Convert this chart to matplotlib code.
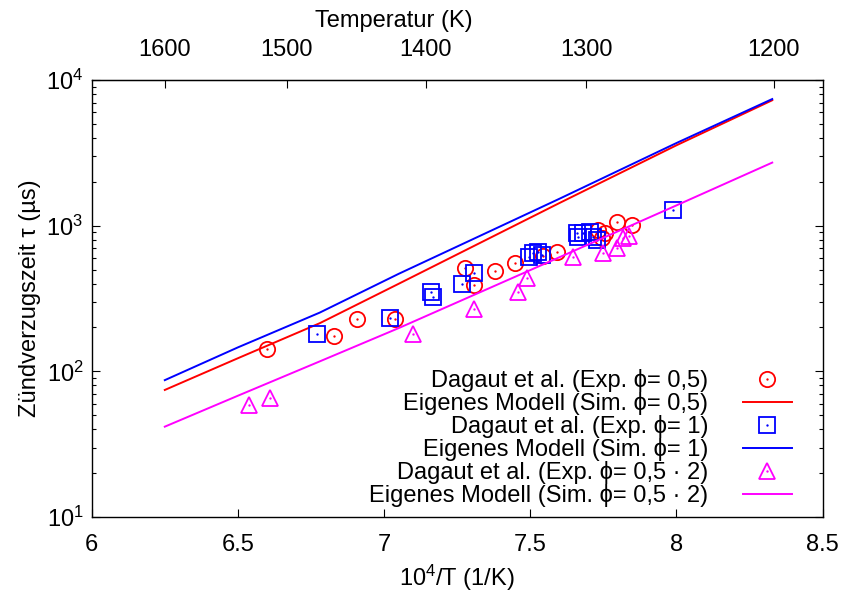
import matplotlib
matplotlib.use("Agg")
import matplotlib.pyplot as plt
from matplotlib.ticker import LogLocator, NullFormatter

plt.rcParams['font.family'] = ['Liberation Sans', 'DejaVu Sans']
plt.rcParams['mathtext.fontset'] = 'custom'
plt.rcParams['mathtext.rm'] = 'Liberation Sans'
plt.rcParams['mathtext.it'] = 'Liberation Sans'

# -- experiment: Dagaut et al. -- #
x_exp05 = [6.599, 6.829, 6.908, 7.038, 7.277, 7.308, 7.381, 7.448, 7.545, 7.590,
           7.733, 7.745, 7.756, 7.798, 7.847]
tau_exp05 = [143, 174, 230, 229, 511, 392, 490, 552, 624, 664,
             935, 820, 888, 1067, 1011]

x_exp1 = [6.769, 7.019, 7.160, 7.169, 7.268, 7.308, 7.497, 7.510, 7.527, 7.540,
          7.659, 7.665, 7.682, 7.705, 7.716, 7.728, 7.988]
tau_exp1 = [180, 232, 351, 323, 398, 472, 614, 647, 661, 630,
            888, 841, 888, 911, 841, 799, 1285]

x_exp2 = [6.539, 6.610, 7.098, 7.308, 7.459, 7.488, 7.645, 7.750, 7.796, 7.819, 7.838]
tau_exp2 = [58.8, 65.3, 180, 268, 349, 436, 614, 647, 700, 820, 851]

# -- simulation: Eigenes Modell -- #
x_sim = [6.25, 6.5, 6.78, 7.05, 7.6, 8.0, 8.328]
tau_sim05 = [74.5, 123, 214, 399, 1430, 3560, 7260]
tau_sim1 = [87, 146, 253, 467, 1530, 3690, 7400]
tau_sim2 = [41.7, 68, 117, 198, 607, 1377, 2710]

temp_ticks = [1600, 1500, 1400, 1300, 1200]

labels = ["Dagaut et al. (Exp. ϕ= 0,5)", "Eigenes Modell (Sim. ϕ= 0,5)",
          "Dagaut et al. (Exp. ϕ= 1)", "Eigenes Modell (Sim. ϕ= 1)",
          "Dagaut et al. (Exp. ϕ= 0,5 · 2)", "Eigenes Modell (Sim. ϕ= 0,5 · 2)"]

RED, BLUE, MAG = '#ff0000', '#0000ff', '#ff00ff'
FS = 17

fig = plt.figure(figsize=(8.43, 5.97), dpi=100)
ax = fig.add_axes([0.1088, 0.134, 0.8669, 0.732])


def exp_points(x, y, marker, color):
    h1, = ax.plot(x, y, ls='none', marker=marker, ms=11, mfc='none',
                  mec=color, mew=1.3)
    h2, = ax.plot(x, y, ls='none', marker='o', ms=1.7, mfc=color, mec=color, mew=0)
    return (h1, h2)


h_e05 = exp_points(x_exp05, tau_exp05, 'o', RED)
h_s05, = ax.plot(x_sim, tau_sim05, color=RED, lw=1.4)
h_e1 = exp_points(x_exp1, tau_exp1, 's', BLUE)
h_s1, = ax.plot(x_sim, tau_sim1, color=BLUE, lw=1.4)
h_e2 = exp_points(x_exp2, tau_exp2, '^', MAG)
h_s2, = ax.plot(x_sim, tau_sim2, color=MAG, lw=1.4)

ax.set_yscale('log')
ax.set_xlim(6, 8.5)
ax.set_ylim(10, 1e4)
ax.set_xticks([6, 6.5, 7, 7.5, 8, 8.5])
ax.set_xticklabels(['6', '6.5', '7', '7.5', '8', '8.5'])
ax.yaxis.set_major_locator(LogLocator(base=10))
ax.yaxis.set_minor_locator(LogLocator(base=10, subs=range(2, 10)))
ax.yaxis.set_minor_formatter(NullFormatter())
ax.tick_params(axis='both', which='both', direction='in', labelsize=FS)
ax.tick_params(axis='x', which='major', length=6, width=0.8, top=False, pad=12)
ax.tick_params(axis='y', which='major', length=6, width=0.8, right=True, pad=6)
ax.tick_params(axis='y', which='minor', length=3, width=0.8, right=True)
for s in ax.spines.values():
    s.set_linewidth(1.0)

ax.set_xlabel(r'10$^{4}$/T (1/K)', fontsize=FS, labelpad=5)
ax.set_ylabel('Zündverzugszeit τ (µs)', fontsize=FS, labelpad=4)

top = ax.secondary_xaxis('top', functions=(lambda v: 1e4 / v, lambda T: 1e4 / T))
top.set_xticks(temp_ticks)
top.set_xticklabels([str(t) for t in temp_ticks])
top.tick_params(direction='in', length=6, width=0.8, labelsize=FS, pad=14)
top.set_xlabel('Temperatur (K)', fontsize=FS, labelpad=8)
top.xaxis.label.set_x(0.414)

leg = ax.legend([h_e05, h_s05, h_e1, h_s1, h_e2, h_s2], labels,
                loc='lower right', bbox_to_anchor=(0.981, -0.0145),
                markerfirst=False, frameon=False, fontsize=FS,
                labelspacing=0.0, handlelength=2.1, handletextpad=1.45,
                borderpad=0.2)

fig.savefig('out.png', dpi=100)
